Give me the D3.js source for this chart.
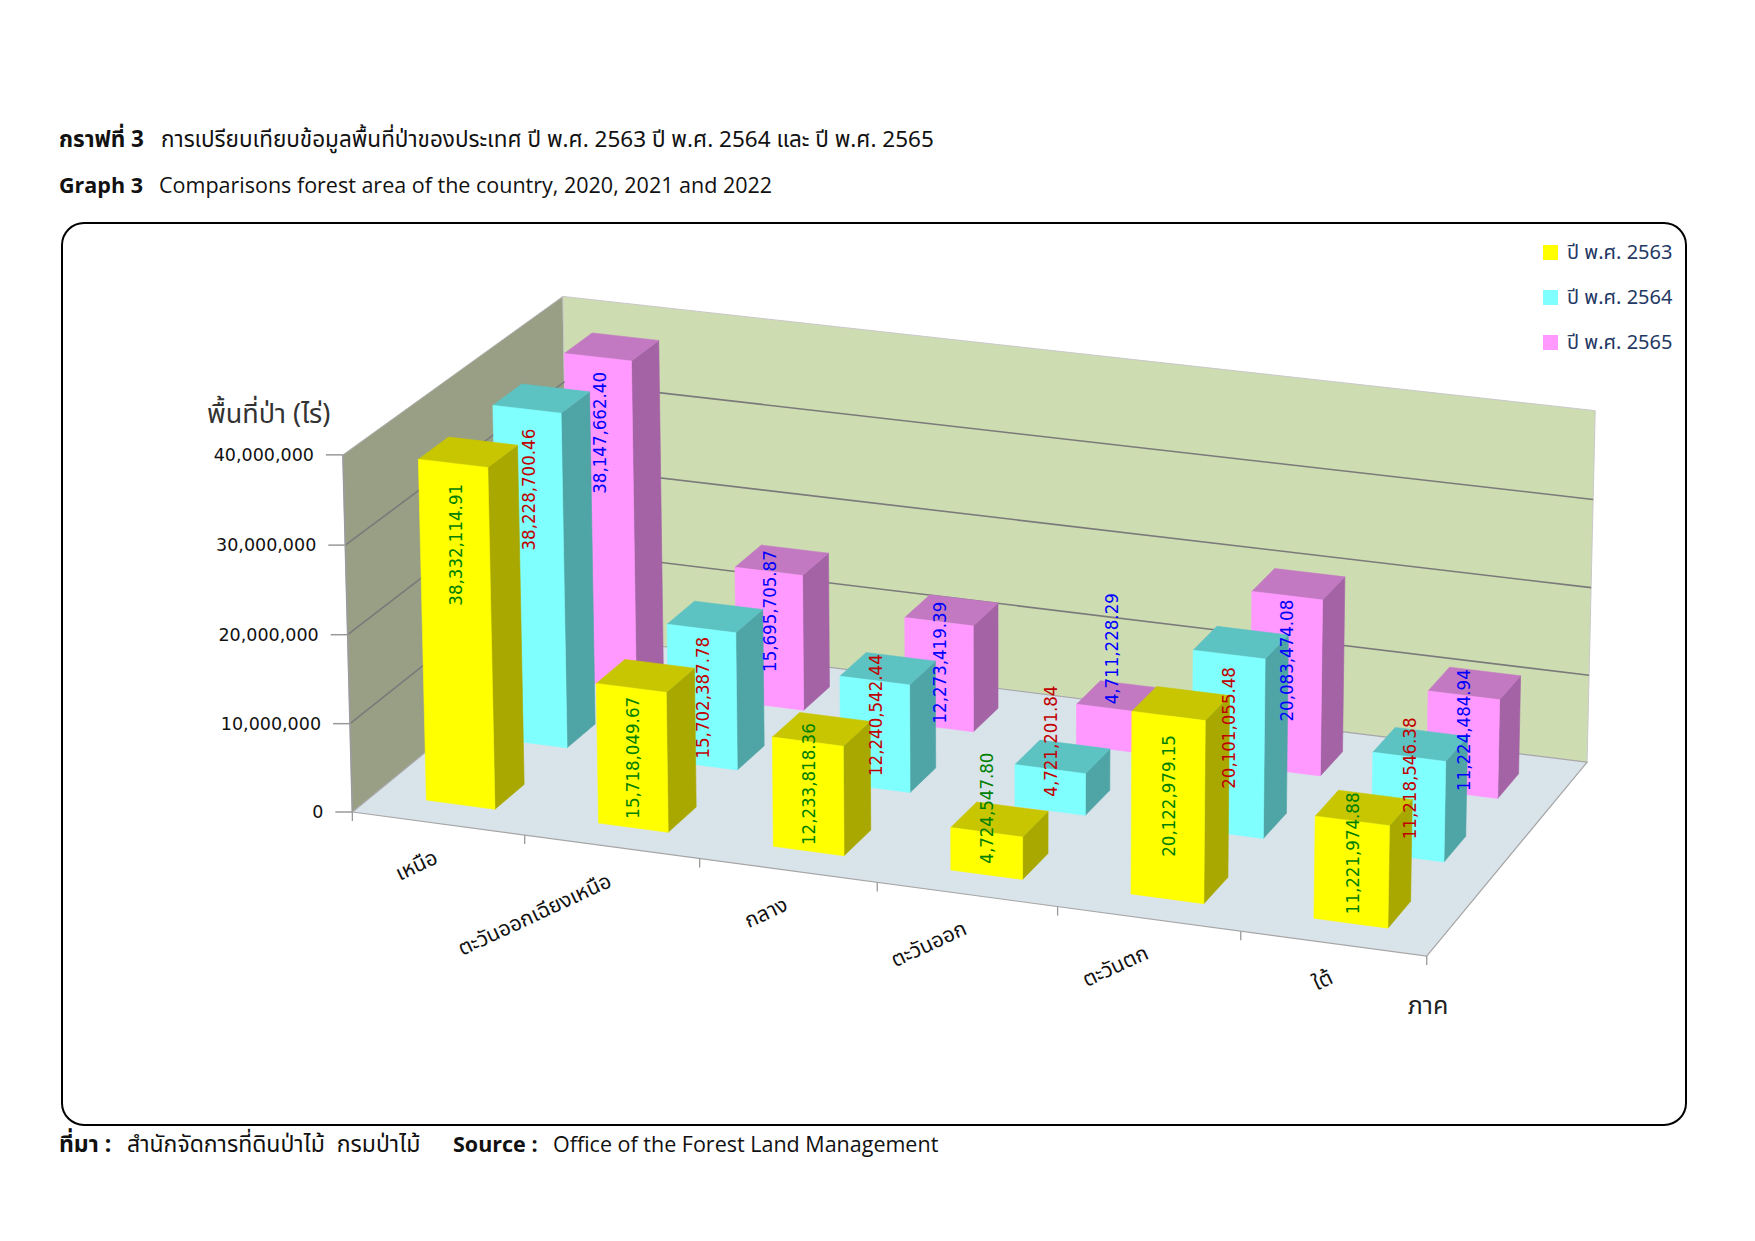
<!DOCTYPE html>
<html>
<head>
<meta charset="utf-8">
<script src="https://cdn.jsdelivr.net/npm/d3@7"></script>
<style>
  html, body { margin: 0; padding: 0; background: #fff; }
  svg { display: block; }
</style>
</head>
<body>
<div id="chart"></div>
<script>
(function () {
  'use strict';

  // --- data ---
  const REGIONS = ['เหนือ', 'ตะวันออกเฉียงเหนือ', 'กลาง', 'ตะวันออก', 'ตะวันตก', 'ใต้'];
  const SERIES = ['ปี พ.ศ. 2563', 'ปี พ.ศ. 2564', 'ปี พ.ศ. 2565'];
  const AREA_2563 = [38332114.91, 15718049.67, 12233818.36, 4724547.80, 20122979.15, 11221974.88];
  const AREA_2564 = [38228700.46, 15702387.78, 12240542.44, 4721201.84, 20101055.48, 11218546.38];
  const AREA_2565 = [38147662.40, 15695705.87, 12273419.39, 4711228.29, 20083474.08, 11224484.94];
  const Y_TICKS = [0, 10000000, 20000000, 30000000, 40000000];
  const VALUES = [AREA_2563, AREA_2564, AREA_2565];

  // --- styling ---
  const COLORS = [
    { front: '#ffff00', top: '#c8c600', side: '#a8a800', label: '#008000' },
    { front: '#80ffff', top: '#5cc2c2', side: '#4fa5a5', label: '#c00000' },
    { front: '#ff99ff', top: '#c279c2', side: '#a363a5', label: '#0000ff' },
  ];
  const THAI = "'Noto Sans Thai', Tahoma, 'Leelawadee UI', Loma, Garuda, 'Noto Sans', sans-serif";
  const LATIN = "'Open Sans', 'Noto Sans', sans-serif";
  const NUMF = "'DejaVu Sans', Verdana, sans-serif";
  const NUMC = "'DejaVu Sans Condensed', 'DejaVu Sans', sans-serif";

  // Label nudges (px upward from the bar base), [region][series] - labels were hand placed in the original
  const LABEL_LIFT = [
    [199, 193, 191],
    [9, 7, 34],
    [6, 12, 4],
    [11, 14, 45],
    [42, 45, 50],
    [9, 18, 3],
  ];

  const W = 1755, H = 1241;
  const svg = d3.select('#chart').append('svg')
    .attr('width', W).attr('height', H).attr('viewBox', `0 0 ${W} ${H}`);

  // --- 3D frame: world X = category slots (0..6), Y = value/10M (0..4), Z = depth (0 front .. 1 back)
  // screen anchors of the box corners, used to fit a perspective camera
  const frameAnchors = [
    [[0, 0, 0], [352, 810]],
    [[0, 4, 0], [343, 456]],
    [[0, 4, 1], [563, 295]],
    [[0, 0, 1], [569, 637]],
    [[6, 4, 1], [1595, 411]],
    [[6, 0, 1], [1587, 761]],
    [[6, 0, 0], [1427, 957]],
  ];

  const xBand = d3.scaleBand().domain(REGIONS).range([0, 6]).paddingInner(0.6).paddingOuter(0.3);
  const zBand = d3.scaleBand().domain(SERIES).range([0, 1]).paddingInner(0.6).paddingOuter(0.3);
  const yVal = d3.scaleLinear().domain([0, 40000000]).range([0, 4]);

  function solve(M, rhs) {
    const n = rhs.length;
    const a = M.map((r, i) => [...r, rhs[i]]);
    for (let c = 0; c < n; c++) {
      let piv = c;
      for (let r = c + 1; r < n; r++) if (Math.abs(a[r][c]) > Math.abs(a[piv][c])) piv = r;
      [a[c], a[piv]] = [a[piv], a[c]];
      for (let r = 0; r < n; r++) {
        if (r === c) continue;
        const f = a[r][c] / a[c][c];
        for (let k = c; k <= n; k++) a[r][k] -= f * a[c][k];
      }
    }
    return a.map((r, i) => r[n] / r[i]);
  }

  const CX = 900, CY = 600, SC = 500;
  function fitCamera(pairs) {
    const rows = [], rhs = [];
    pairs.forEach(([[X, Y, Z], [u, v]]) => {
      const U = (u - CX) / SC, V = (v - CY) / SC;
      rows.push([X, Y, Z, 1, 0, 0, 0, 0, -U * X, -U * Y, -U * Z]); rhs.push(U);
      rows.push([0, 0, 0, 0, X, Y, Z, 1, -V * X, -V * Y, -V * Z]); rhs.push(V);
    });
    const n = 11;
    const N = d3.range(n).map(() => Array(n).fill(0));
    const t = Array(n).fill(0);
    rows.forEach((r, k) => {
      for (let i = 0; i < n; i++) {
        t[i] += r[i] * rhs[k];
        for (let j = 0; j < n; j++) N[i][j] += r[i] * r[j];
      }
    });
    return solve(N, t);
  }
  const P = fitCamera(frameAnchors);
  const proj = ([X, Y, Z]) => {
    const w = P[8] * X + P[9] * Y + P[10] * Z + 1;
    return [CX + SC * (P[0] * X + P[1] * Y + P[2] * Z + P[3]) / w,
            CY + SC * (P[4] * X + P[5] * Y + P[6] * Z + P[7]) / w];
  };
  const cam = solve([[P[0], P[1], P[2]], [P[4], P[5], P[6]], [P[8], P[9], P[10]]], [-P[3], -P[7], -1]);

  const line = d3.line();
  const poly = pts => line(pts.map(proj)) + 'Z';

  // --- frame box + texts ---
  svg.append('rect').attr('x', 62).attr('y', 223).attr('width', 1624).attr('height', 902)
    .attr('rx', 22).attr('fill', 'none').attr('stroke', '#000').attr('stroke-width', 2);

  const title1 = svg.append('text').attr('x', 59).attr('y', 147).style('font-family', THAI).style('font-size', '22.5px').attr('fill', '#111');
  title1.append('tspan').attr('font-weight', 'bold').text('กราฟที่ 3');
  title1.append('tspan').attr('x', 161).text('การเปรียบเทียบข้อมูลพื้นที่ป่าของประเทศ ปี พ.ศ. 2563 ปี พ.ศ. 2564 และ ปี พ.ศ. 2565');
  const title2 = svg.append('text').attr('x', 59).attr('y', 193).style('font-family', LATIN).style('font-size', '21.5px').attr('fill', '#111');
  title2.append('tspan').attr('font-weight', 'bold').text('Graph 3');
  title2.append('tspan').attr('x', 159).text('Comparisons forest area of the country, 2020, 2021 and 2022');

  const src = svg.append('text').attr('y', 1152).style('font-family', THAI).style('font-size', '23px')
    .style('white-space', 'pre').attr('fill', '#111');
  src.append('tspan').attr('x', 59).attr('font-weight', 'bold').text('ที่มา :');
  src.append('tspan').attr('x', 127).text('สำนักจัดการที่ดินป่าไม้  กรมป่าไม้');
  src.append('tspan').attr('x', 453).attr('font-weight', 'bold').style('font-family', LATIN).style('font-size', '21.5px').text('Source :');
  src.append('tspan').attr('x', 553).style('font-family', LATIN).style('font-size', '21.5px').text('Office of the Forest Land Management');

  // --- walls, floor, gridlines ---
  const g = svg.append('g');
  g.append('path').attr('d', poly([[0, 0, 0], [0, 4, 0], [0, 4, 1], [0, 0, 1]]))
    .attr('fill', '#989f85').attr('stroke', '#b4b4b4').attr('stroke-width', 1);
  g.append('path').attr('d', poly([[0, 0, 1], [6, 0, 1], [6, 4, 1], [0, 4, 1]]))
    .attr('fill', '#cedcb2').attr('stroke', '#c8c8c8').attr('stroke-width', 1);
  g.append('path').attr('d', poly([[0, 0, 0], [6, 0, 0], [6, 0, 1], [0, 0, 1]]))
    .attr('fill', '#d9e3ea').attr('stroke', '#a6a6a6').attr('stroke-width', 1.2);

  Y_TICKS.filter(t => t > 0 && t < 40000000).forEach(t => {
    const y = yVal(t);
    g.append('path').attr('d', line([[0, y, 0], [0, y, 1], [6, y, 1]].map(proj)))
      .attr('fill', 'none').attr('stroke', '#7a7a7a').attr('stroke-width', 1.6);
  });

  // y axis line + ticks + labels
  g.append('path').attr('d', line([[0, 0, 0], [0, 4, 0]].map(proj)))
    .attr('stroke', '#9a9a9a').attr('stroke-width', 1.6).attr('fill', 'none');
  Y_TICKS.forEach(t => {
    const [x, y] = proj([0, yVal(t), 0]);
    g.append('line').attr('x1', x - 17).attr('x2', x).attr('y1', y).attr('y2', y)
      .attr('stroke', '#9a9a9a').attr('stroke-width', 1.5);
    g.append('text').attr('x', x - 29).attr('y', y).attr('dy', '0.36em')
      .attr('text-anchor', 'end').style('font-family', NUMF).style('font-size', '17.5px')
      .attr('fill', '#111').text(d3.format(',')(t));
  });
  // category ticks on front edge
  d3.range(7).forEach(k => {
    const [x, y] = proj([k, 0, 0]);
    g.append('line').attr('x1', x).attr('x2', x).attr('y1', y).attr('y2', y + 9)
      .attr('stroke', '#9a9a9a').attr('stroke-width', 1.3);
  });

  // --- bars ---
  const bars = [];
  SERIES.forEach((s, si) => {
    REGIONS.forEach((r, ri) => {
      bars.push({ si, ri, v: VALUES[si][ri],
        x0: xBand(r), x1: xBand(r) + xBand.bandwidth(),
        z0: zBand(s), z1: zBand(s) + zBand.bandwidth() });
    });
  });
  bars.sort((a, b) => (b.si - a.si) || (Math.abs(b.x0 - cam[0]) - Math.abs(a.x0 - cam[0])));

  const barG = svg.append('g');
  bars.forEach(b => {
    const h = yVal(b.v), c = COLORS[b.si];
    const faces = [];
    if (cam[2] > b.z1) faces.push([[[b.x0, 0, b.z1], [b.x1, 0, b.z1], [b.x1, h, b.z1], [b.x0, h, b.z1]], c.side]);
    if (cam[0] < b.x0) faces.push([[[b.x0, 0, b.z0], [b.x0, 0, b.z1], [b.x0, h, b.z1], [b.x0, h, b.z0]], c.side]);
    if (cam[0] > b.x1) faces.push([[[b.x1, 0, b.z0], [b.x1, 0, b.z1], [b.x1, h, b.z1], [b.x1, h, b.z0]], c.side]);
    if (cam[1] > h) faces.push([[[b.x0, h, b.z0], [b.x1, h, b.z0], [b.x1, h, b.z1], [b.x0, h, b.z1]], c.top]);
    if (cam[2] < b.z0) faces.push([[[b.x0, 0, b.z0], [b.x1, 0, b.z0], [b.x1, h, b.z0], [b.x0, h, b.z0]], c.front]);
    faces.forEach(([pts, fill]) => {
      barG.append('path').attr('d', poly(pts)).attr('fill', fill)
        .attr('stroke', fill).attr('stroke-width', 0.6).attr('stroke-linejoin', 'round');
    });
  });

  // --- value labels (drawn on top), kept on the centre line of the front face ---
  const labG = svg.append('g');
  bars.forEach(b => {
    const xc = (b.x0 + b.x1) / 2;
    const [bx, by] = proj([xc, 0, b.z0]);
    const [tx, ty] = proj([xc, yVal(b.v), b.z0]);
    const ly = by - LABEL_LIFT[b.ri][b.si];
    const lc = ly - 61; // middle of the label
    const lx = bx + (tx - bx) * (by - lc) / (by - ty);
    labG.append('text')
      .attr('transform', `translate(${lx},${ly}) rotate(-90)`)
      .attr('dy', '0.36em').attr('text-anchor', 'start')
      .style('font-family', NUMC).style('font-size', '18.5px')
      .attr('fill', COLORS[b.si].label)
      .text(d3.format(',.2f')(b.v));
  });

  // --- category labels ---
  REGIONS.forEach(r => {
    const [ax, ay] = proj([xBand(r) + xBand.bandwidth() / 2, 0, 0]);
    svg.append('text')
      .attr('transform', `translate(${ax + 1},${ay + 39}) rotate(-25)`)
      .attr('text-anchor', 'end')
      .style('font-family', THAI).style('font-size', '21px').attr('fill', '#111')
      .text(r);
  });
  svg.append('text').attr('x', 1428).attr('y', 1014).attr('text-anchor', 'middle')
    .style('font-family', THAI).style('font-size', '25px').attr('fill', '#222').text('ภาค');

  // y axis title
  svg.append('text').attr('x', 207).attr('y', 423)
    .style('font-family', THAI).style('font-size', '27px').attr('fill', '#333').text('พื้นที่ป่า (ไร่)');

  // --- legend ---
  const leg = svg.append('g');
  SERIES.forEach((s, i) => {
    const y = 252 + i * 45;
    leg.append('rect').attr('x', 1543).attr('y', y - 7).attr('width', 15).attr('height', 15)
      .attr('fill', COLORS[i].front);
    leg.append('text').attr('x', 1567).attr('y', y).attr('dy', '0.36em')
      .style('font-family', THAI).style('font-size', '20px').attr('fill', '#1f3864').text(s);
  });
})();
</script>
</body>
</html>
